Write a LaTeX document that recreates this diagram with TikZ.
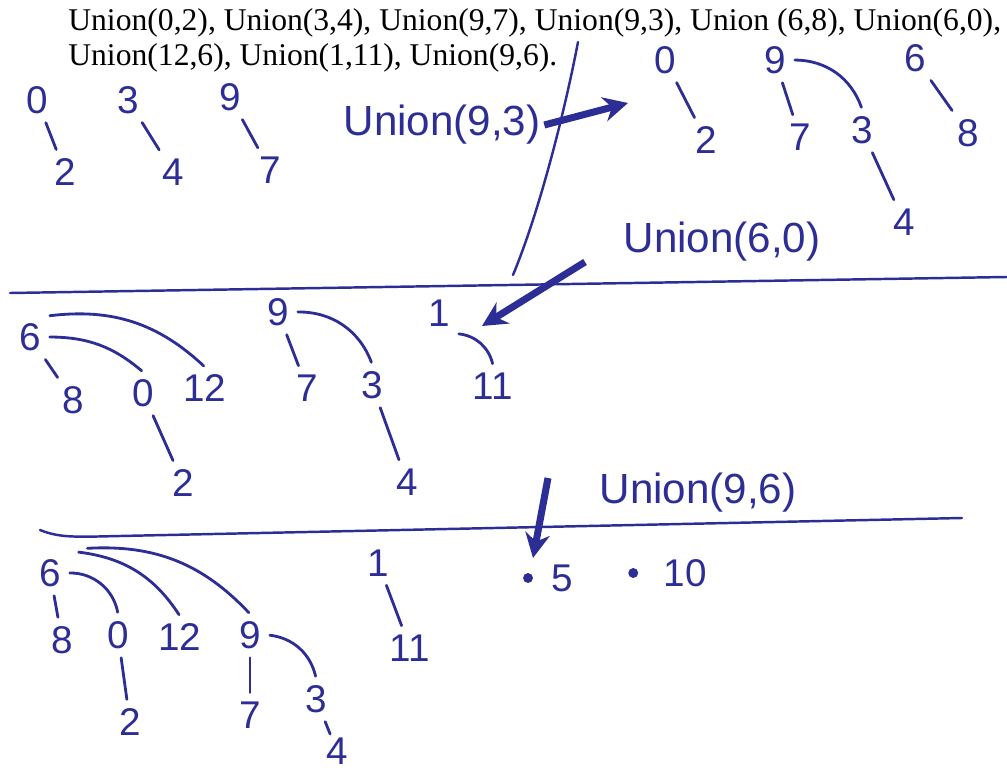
\documentclass[tikz,border=0pt]{standalone}
\usepackage{fontspec}
\setmainfont{Liberation Serif}
\newfontfamily\handfont{Liberation Sans}
\usetikzlibrary{arrows.meta,positioning}
\definecolor{ink}{RGB}{45,45,150}
\tikzset{
  digit/.style={font=\handfont\fontsize{22}{22}\selectfont, text=ink, inner sep=4pt},
  link/.style={ink, line width=1.6pt, line cap=round, shorten <=1pt, shorten >=1pt},
  op/.style={font=\handfont\fontsize{24}{24}\selectfont, text=ink, inner sep=2pt},
  divider/.style={ink, line width=1.4pt, line cap=round},
  bigarrow/.style={-{Stealth[length=14pt,width=14pt]}, ink, line width=4pt},
  dot/.style={circle, fill=ink, inner sep=2pt},
}

\begin{document}
\begin{tikzpicture}[x=0.02cm, y=-0.02cm]
  \useasboundingbox (0,0) rectangle (1007,773);

  % Problem text
  \node[anchor=north west, align=left, inner sep=0pt,
        font=\fontsize{18}{20}\selectfont] (prob) at (68,8)
    {Union(0,2), Union(3,4), Union(9,7), Union(9,3), Union (6,8), Union(6,0),\\
     Union(12,6), Union(1,11), Union(9,6).};

  % First forest
  \node[digit] (a0) at (37,100) {0};
  \node[digit] (a2) at (65,172) {2};
  \node[digit] (a3) at (128,100) {3};
  \node[digit] (a4) at (173,172) {4};
  \node[digit] (a9) at (230,97) {9};
  \node[digit] (a7) at (270,170) {7};
  \draw[link] (a0) -- (a2);
  \draw[link] (a3) -- (a4);
  \draw[link] (a9) -- (a7);

  % After Union(9,3)
  \node[op] (op93) at (442,125) {Union(9,3)};
  \coordinate (h93) at (628,103);
  \draw[bigarrow] (op93.east) -- (h93);

  \node[digit] (b0) at (665,60) {0};
  \node[digit] (b2) at (706,140) {2};
  \node[digit] (b9) at (775,60) {9};
  \node[digit] (b7) at (800,137) {7};
  \node[digit] (b3) at (862,130) {3};
  \node[digit] (b4) at (904,222) {4};
  \node[digit] (b6) at (915,58) {6};
  \node[digit] (b8) at (968,133) {8};
  \draw[link] (b0) -- (b2);
  \draw[link] (b9) -- (b7);
  \draw[link] (b9.east) to[bend left=35] (b3.north);
  \draw[link] (b3) -- (b4);
  \draw[link] (b6) -- (b8);

  % Separators
  \draw[divider] (578,42) .. controls (565,110) and (540,210) .. (513,275);
  \draw[divider] (10,293) -- (1007,277);

  % After Union(6,8), Union(6,0), Union(12,6), Union(1,11)
  \node[op] (op60) at (722,242) {Union(6,0)};
  \coordinate (t60) at (585,262);
  \coordinate (h60) at (482,326);
  \draw[bigarrow] (t60) -- (h60);

  \node[digit] (m6) at (30,337) {6};
  \node[digit] (m8) at (73,400) {8};
  \node[digit] (m0) at (143,393) {0};
  \node[digit] (m12) at (205,388) {12};
  \node[digit] (m2) at (183,483) {2};
  \node[digit] (m9) at (278,312) {9};
  \node[digit] (m7) at (307,388) {7};
  \node[digit] (m3) at (372,385) {3};
  \node[digit] (m4) at (407,482) {4};
  \node[digit] (m1) at (439,313) {1};
  \node[digit] (m11) at (493,386) {11};
  \draw[link] (m6) -- (m8);
  \draw[link] (m6.east) to[bend left=20] (m0.north);
  \draw[link] (m6.north east) to[bend left=25] (m12.north);
  \draw[link] (m0) -- (m2);
  \draw[link] (m9) -- (m7);
  \draw[link] (m9.east) to[bend left=35] (m3.north);
  \draw[link] (m3) -- (m4);
  \draw[link] (m1.south east) to[bend left=35] (m11.north);

  % After Union(9,6)
  \node[op] (op96) at (698,493) {Union(9,6)};
  \coordinate (t96) at (548,478);
  \coordinate (h96) at (533,558);
  \draw[bigarrow] (t96) -- (h96);
  \draw[divider] (40,530) .. controls (60,538) and (75,537) .. (120,536) -- (962,518);

  \node[digit] (c6) at (50,573) {6};
  \node[digit] (c8) at (62,640) {8};
  \node[digit] (c0) at (118,635) {0};
  \node[digit] (c12) at (180,637) {12};
  \node[digit] (c9) at (250,635) {9};
  \node[digit] (c2) at (130,722) {2};
  \node[digit] (c7) at (250,715) {7};
  \node[digit] (c3) at (316,699) {3};
  \node[digit, inner sep=1pt] (c4) at (337,751) {4};
  \node[digit] (c1) at (378,563) {1};
  \node[digit] (c11) at (410,648) {11};
  \node[digit] (c5) at (562,578) {5};
  \node[digit] (c10) at (685,573) {10};
  \node[dot, left=6pt of c5] (d5) {};
  \node[dot, left=10pt of c10] (d10) {};
  \draw[link] (c6) -- (c8);
  \draw[link] (c6.east) to[bend left=40] (c0.north);
  \draw[link] ([xshift=5pt]c6.north east) to[bend left=25] (c12.north);
  \draw[link] ([xshift=10pt,yshift=2pt]c6.north east) to[bend left=25] (c9.north);
  \draw[link] (c0) -- (c2);
  \draw[link] (c9) -- (c7);
  \draw[link] (c9.east) to[bend left=35] (c3.north);
  \draw[link] (c3) -- (c4);
  \draw[link] (c1) -- (c11);
\end{tikzpicture}
\end{document}
